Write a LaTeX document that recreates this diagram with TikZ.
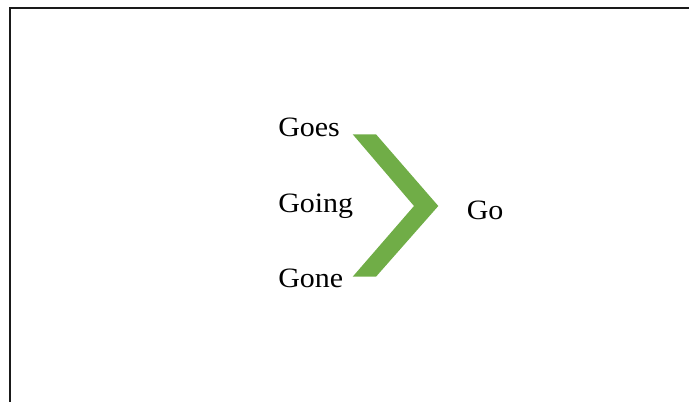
\documentclass[tikz,border=0pt]{standalone}
\usepackage{fontspec}
\setmainfont{Liberation Serif}
\newfontfamily\labelfont[FakeStretch=1.07]{Liberation Serif}
\definecolor{chevrongreen}{HTML}{70AD47}
\definecolor{framegray}{HTML}{1A1A1A}
\tikzset{
  word/.style={anchor=base west, inner sep=0pt, font=\labelfont\fontsize{21}{25}\selectfont},
  frameline/.style={draw=framegray, line width=1.5pt}
}
\begin{document}
\begin{tikzpicture}[x=0.75pt, y=-0.75pt]
  \useasboundingbox (0,0) rectangle (689,402);
  % page frame (top and left edges)
  \draw[frameline] (10,402) -- (10,8) -- (689,8);
  % word forms
  \node[word] (goes)  at (278,136.5) {Goes};
  \node[word] (going) at (278,212.5) {Going};
  \node[word] (gone)  at (278,288)   {Gone};
  \node[word] (go)    at (466.5,220) {Go};
  % chevron bracket
  \fill[chevrongreen] (352.7,134.3) -- (376,134.3) -- (438.3,206) -- (376,276.7)
    -- (352.7,276.7) -- (414,206) -- cycle;
\end{tikzpicture}
\end{document}
